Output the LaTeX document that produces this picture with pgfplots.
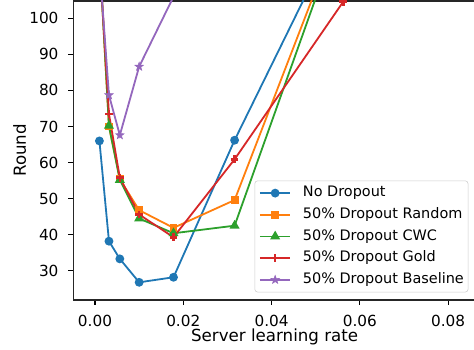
\documentclass[border=0pt]{standalone}
\usepackage{pgfplots}
\pgfplotsset{compat=1.18}
\usepackage{fontspec}
\setmainfont{DejaVu Sans}
\definecolor{c1}{HTML}{1F77B4}
\definecolor{c2}{HTML}{FF7F0E}
\definecolor{c3}{HTML}{2CA02C}
\definecolor{c4}{HTML}{D62728}
\definecolor{c5}{HTML}{9467BD}
\pgfdeclareplotmark{fstar}{%
  \pgfpathmoveto{\pgfpointpolar{90}{\pgfplotmarksize}}%
  \pgfpathlineto{\pgfpointpolar{126}{0.40\pgfplotmarksize}}%
  \pgfpathlineto{\pgfpointpolar{162}{\pgfplotmarksize}}%
  \pgfpathlineto{\pgfpointpolar{198}{0.40\pgfplotmarksize}}%
  \pgfpathlineto{\pgfpointpolar{234}{\pgfplotmarksize}}%
  \pgfpathlineto{\pgfpointpolar{270}{0.40\pgfplotmarksize}}%
  \pgfpathlineto{\pgfpointpolar{306}{\pgfplotmarksize}}%
  \pgfpathlineto{\pgfpointpolar{342}{0.40\pgfplotmarksize}}%
  \pgfpathlineto{\pgfpointpolar{18}{\pgfplotmarksize}}%
  \pgfpathlineto{\pgfpointpolar{54}{0.40\pgfplotmarksize}}%
  \pgfpathclose
  \pgfusepathqfillstroke}
\begin{document}
\begin{tikzpicture}
\begin{axis}[
  name=ax,
  scale only axis,
  width=289.9pt, height=215.3pt,
  xmin=-0.00491, xmax=0.0863,
  ymin=21.9, ymax=104.8,
  xtick={0,0.02,0.04,0.06,0.08},
  xticklabels={0.00,0.02,0.04,0.06,0.08},
  ytick={30,40,50,60,70,80,90,100},
  scaled x ticks=false,
  /pgf/number format/assume math mode=true,
  tick pos=left,
  tick align=outside,
  major tick length=3.5pt,
  tick style={line width=0.8pt, black},
  axis line style={line width=0.8pt, black!85},
  ticklabel style={font=\fontsize{11}{13}\selectfont, inner sep=0pt},
  xticklabel style={anchor=north, yshift=-7.2pt},
  yticklabel style={anchor=east, xshift=-7.0pt},
  xlabel={Server learning rate},
  ylabel={Round},
  label style={font=\fontsize{12}{14}\selectfont, inner sep=0pt},
  xlabel style={at={(axis description cs:0.5,0)}, anchor=north, yshift=-20.9pt},
  ylabel style={at={(axis description cs:0,0.5)}, anchor=center, rotate=0, yshift=38.7pt},
  legend cell align=left,
  legend style={at={(1,0)}, anchor=south east, xshift=-5.5pt, yshift=5.5pt,
    font=\fontsize{10.4}{12}\selectfont, draw=black!20, rounded corners=2pt,
    inner xsep=3.0pt, inner ysep=3.6pt, row sep=5.1pt,
    nodes={inner sep=0pt, text height=8pt, text depth=2.5pt}},
  legend image code/.code={%
    \path[draw=none,fill=none] (0pt,0pt) -- (31pt,0pt);
    \draw[mark repeat=2,mark phase=2] plot coordinates {(0pt,0pt) (11pt,0pt) (22pt,0pt)};},
  every axis plot/.append style={line width=1.3pt},
]
\addplot[c1, mark=*, mark size=2.5pt, mark options={solid}] coordinates {
 (0.001,66.0) (0.003162,38.2) (0.005623,33.3) (0.01,26.8) (0.017783,28.2) (0.031623,66.2) (0.056234,127.5)};
\addlegendentry{No Dropout}
\addplot[c2, mark=square*, mark size=2.2pt] coordinates {
 (0.001,118) (0.003162,70.0) (0.005623,55.4) (0.01,46.8) (0.017783,41.9) (0.031623,49.6) (0.056234,127.7)};
\addlegendentry{50\% Dropout Random}
\addplot[c3, mark=triangle*, mark size=2.9pt] coordinates {
 (0.001,118) (0.003162,70.2) (0.005623,55.2) (0.01,44.5) (0.017783,40.4) (0.031623,42.5) (0.056234,127.0)};
\addlegendentry{50\% Dropout CWC}
\addplot[c4, mark=+, mark size=2.8pt, mark options={line width=1.9pt}] coordinates {
 (0.001,117) (0.003162,73.5) (0.005623,55.8) (0.01,45.6) (0.017783,39.3) (0.031623,60.9) (0.056234,104.6)};
\addlegendentry{50\% Dropout Gold}
\addplot[c5, mark=fstar, mark size=3.3pt, mark options={line width=0.3pt}] coordinates {
 (0.001,115) (0.003162,78.7) (0.005623,67.6) (0.01,86.6) (0.017783,106)};
\addlegendentry{50\% Dropout Baseline}
\end{axis}
\pgfresetboundingbox
\path[use as bounding box] ([shift={(-52.8pt,-35.3pt)}]ax.south west) rectangle ([shift={(288.5pt,216pt)}]ax.south west);
\end{tikzpicture}
\end{document}
